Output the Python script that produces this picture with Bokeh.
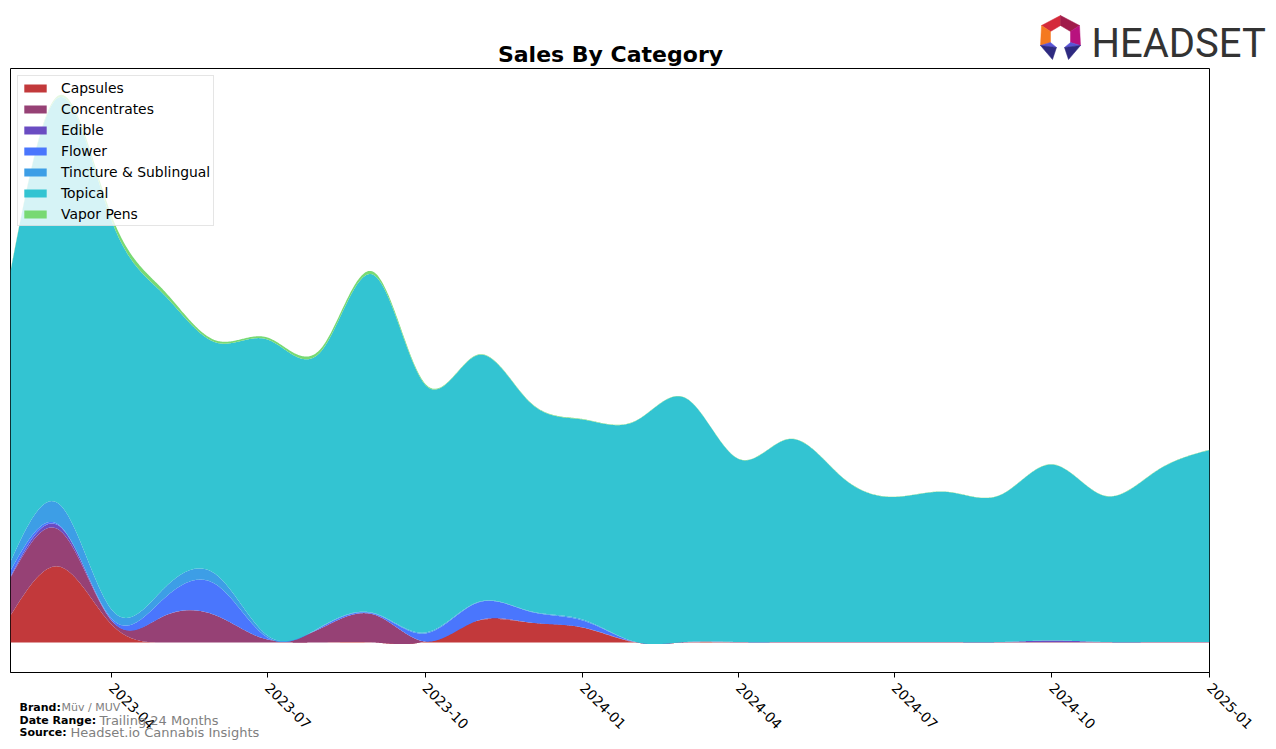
import numpy as np
from bokeh.plotting import figure
from bokeh.models import Range1d, FixedTicker
from bokeh.core.properties import value
from bokeh.embed import file_html
from bokeh.resources import INLINE

# ---------------- data (monthly, arbitrary sales units) ----------------
months = ["2023-02", "2023-03", "2023-04", "2023-05", "2023-06", "2023-07",
          "2023-08", "2023-09", "2023-10", "2023-11", "2023-12", "2024-01",
          "2024-02", "2024-03", "2024-04", "2024-05", "2024-06", "2024-07",
          "2024-08", "2024-09", "2024-10", "2024-11", "2024-12", "2025-01"]

capsules = [27, 76, 18, 0, 0, 0, 0, 0, 1, 22, 20, 15,
            0, 0, 0, 0, 0, 0, 0, 0, 0, 0, 0, 0]
concentrates = [38, 37, 4, 26, 27, 3, 14, 28, 0, 0, 0, 0,
                0.5, 0.5, 0.5, 0.5, 0.5, 0.5, 0.5, 0.5, 0.5, 0.5, 0.5, 0.5]
edible = [1, 4, 0, 0, 0, 0, 0, 0, 0, 0, 0, 0,
          0, 0, 0, 0, 0, 0, 0, 0, 1.5, 0, 0, 0]
flower = [6, 1, 2, 17, 31, 2, 1, 1, 8, 18, 11, 7,
          0, 0, 0, 0, 0, 0, 0, 0, 0, 0, 0, 0]
tincture = [9, 21, 9, 10, 10, 2, 0.5, 0.5, 1, 0.5, 0.5, 1,
            0, 0, 0, 0, 0, 0, 0, 0, 0, 0, 0, 0]
topical = [290, 406, 389, 296, 232, 296, 275, 338, 248, 247, 209, 200,
           221, 244, 183, 203, 164, 145, 150, 147, 176, 146, 171, 192]
vapor_pens = [1, 2, 5, 4, 2, 2, 3, 3, 1, 0.5, 0.5, 0.5,
              0.3, 0.3, 0.3, 0.3, 0.3, 0.3, 0.3, 0.3, 0.3, 0.3, 0.3, 0.3]

categories = ["Capsules", "Concentrates", "Edible", "Flower",
              "Tincture & Sublingual", "Topical", "Vapor Pens"]
series = [capsules, concentrates, edible, flower, tincture, topical, vapor_pens]
colors = ["#C2393B", "#964175", "#6A4CC2", "#4A76FD", "#3D9EE6", "#33C4D2", "#78D973"]

tick_labels = ["2023-04", "2023-07", "2023-10", "2024-01",
               "2024-04", "2024-07", "2024-10", "2025-01"]

title_text = "Sales By Category"
footer_keys = ["Brand:", "Date Range:", "Source:"]
footer_vals = ["Müv / MUV", "Trailing 24 Months", "Headset.io Cannabis Insights"]

# ---------------- helpers ----------------
start = np.datetime64("2023-02-01")


def to_days(labels):
    return (np.array([m + "-01" for m in labels], dtype="datetime64[D]") - start).astype(float)


def spline(x, y, xs):
    """Natural cubic spline evaluation (smooth rendering of the monthly values)."""
    x = np.asarray(x, float)
    y = np.asarray(y, float)
    n = len(x)
    h = np.diff(x)
    A = np.zeros((n, n))
    b = np.zeros(n)
    A[0, 0] = 1.0
    A[n - 1, n - 1] = 1.0
    for i in range(1, n - 1):
        A[i, i - 1] = h[i - 1]
        A[i, i] = 2 * (h[i - 1] + h[i])
        A[i, i + 1] = h[i]
        b[i] = 6 * ((y[i + 1] - y[i]) / h[i] - (y[i] - y[i - 1]) / h[i - 1])
    M = np.linalg.solve(A, b)
    idx = np.clip(np.searchsorted(x, xs, side="right") - 1, 0, n - 2)
    x0, x1 = x[idx], x[idx + 1]
    hh = x1 - x0
    return (M[idx] * (x1 - xs) ** 3 / (6 * hh) + M[idx + 1] * (xs - x0) ** 3 / (6 * hh)
            + (y[idx] / hh - M[idx] * hh / 6) * (x1 - xs)
            + (y[idx + 1] / hh - M[idx + 1] * hh / 6) * (xs - x0))


x_days = to_days(months)
tick_days = to_days(tick_labels)
xs = np.linspace(x_days[0], x_days[-1], 1401)

W, H = 1276, 749

# ---------------- main chart ----------------
p = figure(width=W, height=H, output_backend="svg", toolbar_location=None,
           x_range=Range1d(x_days[0], x_days[-1]), y_range=Range1d(-30, 574),
           min_border_left=10, min_border_right=67, min_border_top=68, min_border_bottom=77)
p.grid.visible = False
p.yaxis.visible = False
p.outline_line_color = "black"
p.outline_line_alpha = 1
p.outline_line_width = 1
p.background_fill_color = "white"
p.border_fill_color = "white"

cum = np.zeros_like(xs)
for name, vals, col in zip(categories, series, colors):
    sm = spline(x_days, vals, xs)
    lower = cum.copy()
    upper = cum + sm
    p.varea(x=xs, y1=lower, y2=upper, fill_color=col, fill_alpha=1, legend_label=name)
    cum = upper

ax = p.xaxis[0]
ax.ticker = FixedTicker(ticks=list(tick_days))
ax.major_label_overrides = {float(d): l for d, l in zip(tick_days, tick_labels)}
ax.major_label_orientation = -np.pi / 4
ax.major_label_text_font = "DejaVu Sans"
ax.major_label_text_font_size = "13.9px"
ax.major_label_text_color = "black"
ax.major_tick_out = 5
ax.major_tick_in = 0
ax.minor_tick_out = 0
ax.minor_tick_in = 0
ax.axis_line_color = "black"
ax.major_tick_line_color = "black"
ax.major_label_standoff = 8

lg = p.legend[0]
lg.location = "top_left"
lg.margin = 7
lg.padding = 3
lg.spacing = 4
lg.label_height = 17
lg.glyph_height = 10
lg.glyph_width = 28
lg.label_standoff = 12
lg.label_text_font = "DejaVu Sans"
lg.label_text_font_size = "13.9px"
lg.label_text_color = "black"
lg.border_line_color = "#cccccc"
lg.border_line_width = 1
lg.background_fill_color = "white"
lg.background_fill_alpha = 0.8

# ---------------- overlay: title, logo, footer (page pixel space) ----------------
ov = figure(width=W, height=H, output_backend="svg", toolbar_location=None,
            x_range=Range1d(0, W), y_range=Range1d(H, 0), min_border=0,
            x_axis_location=None, y_axis_location=None)
ov.grid.visible = False
ov.outline_line_color = None
ov.background_fill_alpha = 0
ov.border_fill_alpha = 0
ov.styles = {"position": "absolute", "left": "0px", "top": "0px"}

ov.text(x=[610], y=[54], text=[title_text], text_align="center", text_baseline="alphabetic",
        text_font=value("DejaVu Sans"), text_font_style="bold", text_font_size="22px",
        text_color="black")

ov.text(x=[19, 19, 19], y=[707, 720, 732], text=footer_keys, text_align="left",
        text_baseline="alphabetic", text_font=value("DejaVu Sans"), text_font_style="bold",
        text_font_size="11px", text_color="black")
ov.text(x=[61], y=[707], text=footer_vals[:1], text_align="left", text_baseline="alphabetic",
        text_font=value("DejaVu Sans"), text_font_size="11px", text_color="#808080")
ov.text(x=[99, 70], y=[720, 732], text=footer_vals[1:], text_align="left",
        text_baseline="alphabetic", text_font=value("DejaVu Sans"), text_font_size="13px",
        text_color="#808080")

logo_xs = [[1041, 1060, 1060, 1050], [1060, 1079, 1070, 1060], [1041, 1050, 1050, 1040],
           [1079, 1080, 1070, 1070], [1040, 1050, 1056], [1040, 1056, 1052],
           [1080, 1070, 1064], [1080, 1064, 1068]]
logo_ys = [[25, 15, 25, 31], [15, 25, 31, 25], [25, 31, 42, 45],
           [25, 45, 42, 31], [45, 42, 47], [45, 47, 59],
           [45, 42, 47], [45, 47, 59]]
logo_cols = ["#d42a3a", "#a01c4a", "#f47920", "#b8127e",
             "#5a55d6", "#2e2a80", "#5a55d6", "#2e2a80"]
ov.patches(xs=logo_xs, ys=logo_ys, fill_color=logo_cols, line_color=logo_cols, line_width=0.5)

ov.text(x=[1091], y=[43], text=["HEADSET"], text_align="left", text_baseline="alphabetic",
        text_font=value("Roboto"), text_font_size="40px", text_color="#333333")

open("out.html", "w").write(file_html([p, ov], INLINE))
